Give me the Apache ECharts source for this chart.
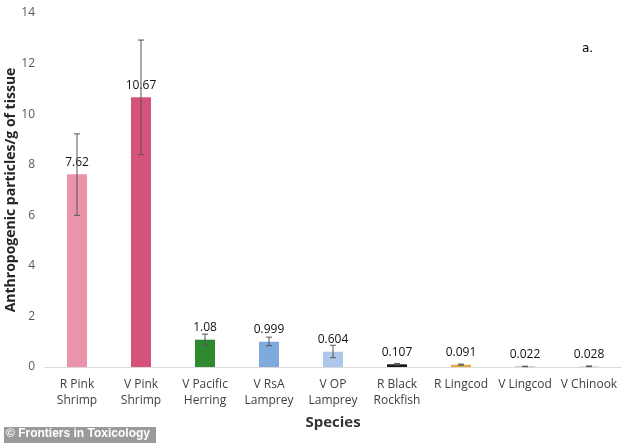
<!DOCTYPE html>
<html>
<head>
<meta charset="utf-8">
<script src="https://cdn.jsdelivr.net/npm/echarts@6/dist/echarts.min.js"></script>
<style>
  html, body { margin: 0; padding: 0; background: #fff; }
</style>
</head>
<body>
<div id="main" style="width: 634px; height: 443px"></div>
<script>
// species on x axis
const species = ['R Pink\nShrimp', 'V Pink\nShrimp', 'V Pacific\nHerring', 'V RsA\nLamprey', 'V OP\nLamprey',
  'R Black\nRockfish', 'R Lingcod', 'V Lingcod', 'V Chinook']
// mean particles per g
const means = [7.62, 10.67, 1.08, 0.999, 0.604, 0.107, 0.091, 0.022, 0.028]
const labels = ['7.62', '10.67', '1.08', '0.999', '0.604', '0.107', '0.091', '0.022', '0.028']
// error bar ends
const errLow = [6.0, 8.4, 0.87, 0.84, 0.37, 0.08, 0.07, 0.012, 0.015]
const errHigh = [9.22, 12.93, 1.3, 1.18, 0.86, 0.135, 0.115, 0.032, 0.042]
const barColors = ['#e994ab', '#d5527a', '#2f8a2f', '#7faade', '#aec8ec', '#1a1a1a', '#e4ad3e', '#a6a6a6', '#c8d2de']
const yTicks = [0, 14, 2]

const fontFamily = '"Open Sans", "Noto Sans", sans-serif'

var myChart = echarts.init(document.getElementById('main'))

var option = {
  animation: false,
  textStyle: { fontFamily: fontFamily },
  grid: { left: 45, right: 13, top: 13, bottom: 76, outerBoundsMode: 'none', containLabel: false },
  xAxis: {
    type: 'category',
    data: species,
    name: 'Species',
    nameLocation: 'middle',
    nameGap: 48,
    nameMoveOverlap: false,
    nameTextStyle: { fontSize: 15, fontWeight: 'bold', color: '#333' },
    axisLine: { lineStyle: { color: '#d9d9d9', width: 1 } },
    axisTick: { show: false },
    axisLabel: { color: '#404040', fontSize: 12, lineHeight: 16, interval: 0, margin: 10 }
  },
  yAxis: {
    type: 'value',
    min: yTicks[0],
    max: yTicks[1],
    interval: yTicks[2],
    name: 'Anthropogenic particles/g of tissue',
    nameLocation: 'middle',
    nameGap: 27,
    nameMoveOverlap: false,
    nameTextStyle: { fontSize: 14, fontWeight: 'bold', color: '#262626' },
    axisLine: { show: false },
    axisTick: { show: false },
    splitLine: { show: false },
    axisLabel: { color: '#595959', fontSize: 12, margin: 10 }
  },
  series: [
    {
      type: 'bar',
      barWidth: 20,
      data: means.map(function (v, i) {
        return { value: v, itemStyle: { color: barColors[i] } }
      }),
      label: {
        show: true,
        position: 'top',
        distance: 6,
        color: '#111',
        fontSize: 12,
        formatter: function (p) { return labels[p.dataIndex] }
      }
    },
    {
      type: 'custom',
      z: 5,
      data: errLow.map(function (lo, i) { return [i, lo, errHigh[i]] }),
      renderItem: function (params, api) {
        var lo = api.coord([api.value(0), api.value(1)])
        var hi = api.coord([api.value(0), api.value(2)])
        var hw = 3
        var style = { stroke: '#555', lineWidth: 1 }
        return {
          type: 'group',
          children: [
            { type: 'line', shape: { x1: hi[0], y1: hi[1], x2: lo[0], y2: lo[1] }, style: style },
            { type: 'line', shape: { x1: hi[0] - hw, y1: hi[1], x2: hi[0] + hw, y2: hi[1] }, style: style },
            { type: 'line', shape: { x1: lo[0] - hw, y1: lo[1], x2: lo[0] + hw, y2: lo[1] }, style: style }
          ]
        }
      }
    }
  ],
  graphic: [
    {
      type: 'text',
      left: 582,
      top: 43,
      style: { text: 'a.', fontSize: 12, fill: '#000', fontFamily: '"DejaVu Sans", sans-serif' }
    },
    {
      type: 'rect',
      left: 4,
      top: 427,
      shape: { width: 152, height: 16 },
      style: { fill: '#9a9a9a' }
    },
    {
      type: 'text',
      left: 6,
      top: 428,
      style: { text: '© Frontiers in Toxicology', fontSize: 12, fontWeight: 'bold', fill: '#fff', fontFamily: '"Liberation Sans", Arial, sans-serif' }
    }
  ]
}

myChart.setOption(option)
</script>
</body>
</html>
